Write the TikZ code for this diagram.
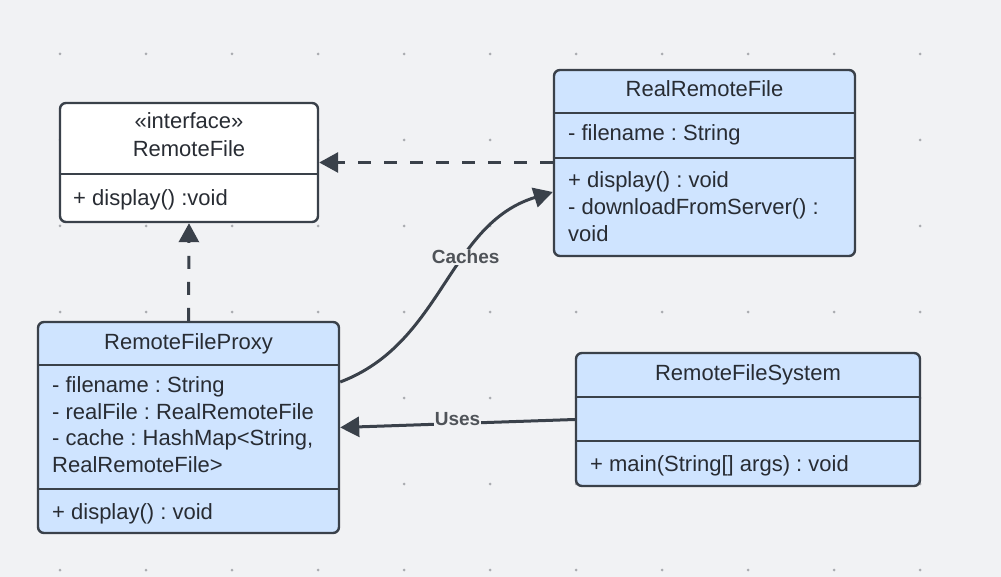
\documentclass[tikz,border=0pt]{standalone}
\usepackage{fontspec}
\setmainfont{Liberation Sans}
\usepackage{xcolor}
\usetikzlibrary{arrows.meta}
\definecolor{canvasgray}{RGB}{241,242,244}
\definecolor{classblue}{RGB}{207,228,255}
\definecolor{umlline}{RGB}{58,65,74}
\definecolor{umltext}{RGB}{40,44,51}
\definecolor{labelgray}{RGB}{79,83,88}
\definecolor{griddot}{RGB}{170,172,176}
\frenchspacing

\begin{document}
\begin{tikzpicture}[x=1pt, y=-1pt,
  classbox/.style={draw=umlline, line width=2.4pt, rounded corners=6pt, fill=classblue, inner sep=0pt},
  divider/.style={draw=umlline, line width=2pt},
  title/.style={anchor=base, inner sep=0pt, text=umltext, font=\fontsize{22}{27}\selectfont},
  member/.style={anchor=base west, inner sep=0pt, text=umltext, font=\fontsize{22}{27}\selectfont},
  link/.style={draw=umlline, line width=3pt, -{Triangle[length=19pt,width=20pt]}},
  linklabel/.style={fill=canvasgray, text=labelgray, inner sep=1pt, font=\fontsize{19}{23}\selectfont\bfseries}]
  % Canvas
  \fill[canvasgray] (0,0) rectangle (1001,577);
  \useasboundingbox (0,0) rectangle (1001,577);
  \foreach \gx in {0,...,10}
    \foreach \gy in {0,...,6}
      \fill[griddot] ({60+86*\gx},{54+86*\gy}) circle (1.5pt);

  % Interface
  \node[classbox, fill=white, minimum width=258pt, minimum height=119pt] (remotefile) at (189,162.5) {};
  \draw[divider] (remotefile.west |- 0,174) -- (remotefile.east |- 0,174);
  \node[title] (rfstereo) at (189,129) {«interface»};
  \node[title] (rfname) at (189,156.7) {RemoteFile};
  \node[member] (rfop) at (73,205.7) {+ display() :void};

  % Real subject
  \node[classbox, minimum width=301pt, minimum height=186pt] (realfile) at (704.5,163) {};
  \draw[divider] (realfile.west |- 0,113) -- (realfile.east |- 0,113);
  \draw[divider] (realfile.west |- 0,158) -- (realfile.east |- 0,158);
  \node[title] (realname) at (704.5,96.7) {RealRemoteFile};
  \node[member] (realattr) at (568,141) {- filename : String};
  \node[member] (realopa) at (568,188) {+ display() : void};
  \node[member] (realopb) at (568,215) {- downloadFromServer() :};
  \node[member] (realopc) at (568,242) {void};

  % Proxy
  \node[classbox, minimum width=301pt, minimum height=211pt] (proxy) at (188.5,427.5) {};
  \draw[divider] (proxy.west |- 0,365) -- (proxy.east |- 0,365);
  \draw[divider] (proxy.west |- 0,489) -- (proxy.east |- 0,489);
  \node[title] (proxyname) at (188.5,349.3) {RemoteFileProxy};
  \node[member] (proxyattra) at (52,392.3) {- filename : String};
  \node[member] (proxyattrb) at (52,419) {- realFile : RealRemoteFile};
  \node[member] (proxyattrc) at (52,445.6) {- cache : HashMap<String,};
  \node[member] (proxyattrd) at (52,472.3) {RealRemoteFile>};
  \node[member] (proxyop) at (52,519.3) {+ display() : void};

  % Client
  \node[classbox, minimum width=344pt, minimum height=133pt] (system) at (748,419.5) {};
  \draw[divider] (system.west |- 0,397) -- (system.east |- 0,397);
  \draw[divider] (system.west |- 0,441) -- (system.east |- 0,441);
  \node[title] (systemname) at (748,380.7) {RemoteFileSystem};
  \node[member] (systemop) at (590,471.7) {+ main(String[] args) : void};

  % Relations
  \draw[link, dash pattern=on 13pt off 13pt] (remotefile.east -| realfile.west) -- (remotefile.east);
  \draw[link, dash pattern=on 13pt off 13pt] (proxy.north) -- (remotefile.south);
  \draw[link] ([yshift=45.5pt]proxy.east) .. controls +(103,-39) and +(-105,32) .. ([yshift=-29pt]realfile.west)
    node[linklabel, pos=0.62] (caches) {Caches};
  \draw[link] (system.west) -- (proxy.east)
    node[linklabel, pos=0.5, yshift=4.5pt] (uses) {Uses};
\end{tikzpicture}
\end{document}
